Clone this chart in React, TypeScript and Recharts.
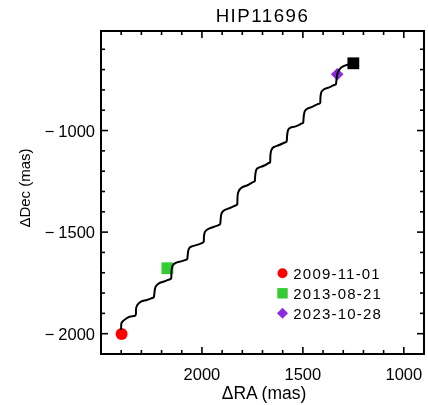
import React from 'react';
import { ScatterChart, Scatter, XAxis, YAxis, Customized } from 'recharts';

// ---------- data ----------
const titleText = 'HIP11696';
const xAxisTitle = 'ΔRA (mas)';
const yAxisTitle = 'ΔDec (mas)';

// predicted track
const curveRA = [
  2401, 2400, 2396, 2373, 2352,
  2329, 2327, 2320, 2302, 2272, 2246,
  2238, 2235, 2230, 2215, 2188, 2161,
  2152, 2151, 2146, 2131, 2104, 2079,
  2072, 2070, 2065, 2052, 2025, 2000,
  1991, 1990, 1985, 1970, 1943, 1916,
  1909, 1907, 1902, 1886, 1859, 1834,
  1825, 1824, 1820, 1802, 1772, 1745,
  1738, 1736, 1731, 1718, 1691, 1669,
  1662, 1661, 1656, 1644, 1617, 1589,
  1580, 1578, 1573, 1560, 1532, 1505,
  1498, 1496, 1491, 1478, 1451, 1424,
  1414, 1413, 1408, 1394, 1367, 1344,
  1336, 1333, 1327, 1310, 1283, 1250,
];
const curveDec = [
  -1982, -1960, -1943, -1924, -1915,
  -1910, -1883, -1859, -1842, -1834, -1824,
  -1819, -1795, -1770, -1753, -1743, -1733,
  -1726, -1696, -1667, -1652, -1644, -1636,
  -1630, -1608, -1583, -1571, -1563, -1554,
  -1546, -1522, -1499, -1485, -1475, -1465,
  -1458, -1433, -1406, -1391, -1380, -1369,
  -1362, -1332, -1303, -1280, -1268, -1253,
  -1248, -1221, -1194, -1182, -1172, -1160,
  -1155, -1125, -1096, -1081, -1071, -1059,
  -1052, -1024, -997, -985, -978, -965,
  -960, -933, -906, -892, -882, -869,
  -864, -837, -810, -796, -786, -776,
  -771, -744, -714, -690, -677, -669,
];

const epochLabels = ['2009-11-01', '2013-08-21', '2023-10-28'];
const epochRA = [2398, 2171, 1330];
const epochDec = [-2002, -1678, -723];
const epochColors = ['#ff0000', '#33cc33', '#8a2be2'];
const epochShapes = ['circle', 'square', 'diamond'];

const endRA = [1250];
const endDec = [-669];

const xDomain = [900, 2500];
const yDomain = [-2100, -510];
const xTicks = [1000, 1100, 1200, 1300, 1400, 1500, 1600, 1700, 1800, 1900, 2000, 2100, 2200, 2300, 2400];
const yTicks = [-2000, -1900, -1800, -1700, -1600, -1500, -1400, -1300, -1200, -1100, -1000, -900, -800, -700, -600];
const xMajor = [1000, 1500, 2000];
const yMajor = [-2000, -1500, -1000];

// ---------- layout (page pixels; the chart is fixed at the page's top-left) ----------
const W = 428;
const H = 405;
const PL = 101;
const PR = 424;
const PT = 31;
const PB = 354;
const FONT = "'Liberation Sans', Arial, Helvetica, sans-serif";

const curveData = curveRA.map((ra, i) => ({ ra, dec: curveDec[i] }));
const epochData = epochLabels.map((label, i) => ({
  label,
  ra: epochRA[i],
  dec: epochDec[i],
  color: epochColors[i],
  shape: epochShapes[i],
}));
const endData = endRA.map((ra, i) => ({ ra, dec: endDec[i] }));

const XTick = (props: any) => {
  const { x, payload } = props;
  const v = payload.value;
  const major = xMajor.includes(v);
  const len = major ? 7 : 4;
  return (
    <g>
      <line x1={x} x2={x} y1={PB} y2={PB - len} stroke="#000" strokeWidth={1.6} />
      <line x1={x} x2={x} y1={PT} y2={PT + len} stroke="#000" strokeWidth={1.6} />
      {major && (
        <text x={x} y={380} textAnchor="middle" fontFamily={FONT} fontSize={16.5} fill="#000">
          {String(v)}
        </text>
      )}
    </g>
  );
};

const YTick = (props: any) => {
  const { y, payload } = props;
  const v = payload.value;
  const major = yMajor.includes(v);
  const len = major ? 7 : 4;
  return (
    <g>
      <line x1={PL} x2={PL + len} y1={y} y2={y} stroke="#000" strokeWidth={1.6} />
      <line x1={PR} x2={PR - len} y1={y} y2={y} stroke="#000" strokeWidth={1.6} />
      {major && (
        <text x={95} y={y + 6} textAnchor="end" fontFamily={FONT} fontSize={16.5} fill="#000">
          <tspan>{'\u2212'}</tspan>
          <tspan dx={4}>{String(Math.abs(v))}</tspan>
        </text>
      )}
    </g>
  );
};

const drawMarker = (shape: string, cx: number, cy: number, color: string, s: number) => {
  if (shape === 'circle') return <circle cx={cx} cy={cy} r={s} fill={color} />;
  if (shape === 'square')
    return <rect x={cx - s} y={cy - s} width={2 * s} height={2 * s} fill={color} />;
  return (
    <polygon
      points={`${cx},${cy - s} ${cx + s},${cy} ${cx},${cy + s} ${cx - s},${cy}`}
      fill={color}
    />
  );
};

const EpochShape = (props: any) => {
  const { cx, cy, payload } = props;
  const s = payload.shape === 'circle' ? 6 : payload.shape === 'square' ? 5.9 : 6.3;
  return drawMarker(payload.shape, cx, cy, payload.color, s);
};

const EndShape = (props: any) => {
  const { cx, cy } = props;
  return <rect x={cx - 5.9} y={cy - 5.9} width={11.8} height={11.8} fill="#000" />;
};

const NoShape = () => <g />;

const Decorations = () => (
  <g>
    <line x1={PL} x2={PR} y1={PT} y2={PT} stroke="#000" strokeWidth={2} strokeLinecap="square" />
    <line x1={PL} x2={PR} y1={PB} y2={PB} stroke="#000" strokeWidth={2} strokeLinecap="square" />
    <line x1={PL} x2={PL} y1={PT} y2={PB} stroke="#000" strokeWidth={2} strokeLinecap="square" />
    <line x1={PR} x2={PR} y1={PT} y2={PB} stroke="#000" strokeWidth={2} strokeLinecap="square" />
    <text x={(PL + PR) / 2} y={21.7} textAnchor="middle" fontFamily={FONT} fontSize={18.7} letterSpacing={1.5} fill="#000">
      {titleText}
    </text>
    <text x={(PL + PR) / 2 + 1.5} y={399} textAnchor="middle" fontFamily={FONT} fontSize={17.5} fill="#000">
      {xAxisTitle}
    </text>
    <text
      transform={`translate(29.5, 188) rotate(-90)`}
      textAnchor="middle"
      fontFamily={FONT}
      fontSize={15}
      fill="#000"
    >
      {yAxisTitle}
    </text>
    {epochData.map((d, i) => {
      const cy = 273.3 + i * 20;
      const s = d.shape === 'circle' ? 5 : d.shape === 'square' ? 5.2 : 5.5;
      return (
        <g key={d.label}>
          {drawMarker(d.shape, 282.5, cy, d.color, s)}
          <text x={293.3} y={cy + 5.2} fontFamily={FONT} fontSize={15} letterSpacing={1.2} fill="#000">
            {d.label}
          </text>
        </g>
      );
    })}
  </g>
);

export default function App() {
  return (
    <div style={{ position: 'fixed', left: 0, top: 0, width: W, height: H }}>
      <ScatterChart width={W} height={H} margin={{ top: PT, right: W - PR, left: 0, bottom: 0 }}>
        <XAxis
          type="number"
          dataKey="ra"
          domain={xDomain}
          reversed
          ticks={xTicks}
          interval={0}
          tick={<XTick />}
          tickLine={false}
          axisLine={false}
          tickSize={0}
          tickMargin={0}
          height={H - PB}
          allowDataOverflow
        />
        <YAxis
          type="number"
          dataKey="dec"
          domain={yDomain}
          ticks={yTicks}
          interval={0}
          tick={<YTick />}
          tickLine={false}
          axisLine={false}
          tickSize={0}
          tickMargin={0}
          width={PL}
          allowDataOverflow
        />
        <Scatter data={epochData} shape={<EpochShape />} isAnimationActive={false} legendType="none" />
        <Scatter data={endData} shape={<EndShape />} isAnimationActive={false} legendType="none" />
        <Scatter
          data={curveData}
          shape={<NoShape />}
          line={{ stroke: '#000', strokeWidth: 2, fill: 'none' }}
          lineJointType="natural"
          isAnimationActive={false}
          legendType="none"
        />
        <Customized component={<Decorations />} />
      </ScatterChart>
    </div>
  );
}
